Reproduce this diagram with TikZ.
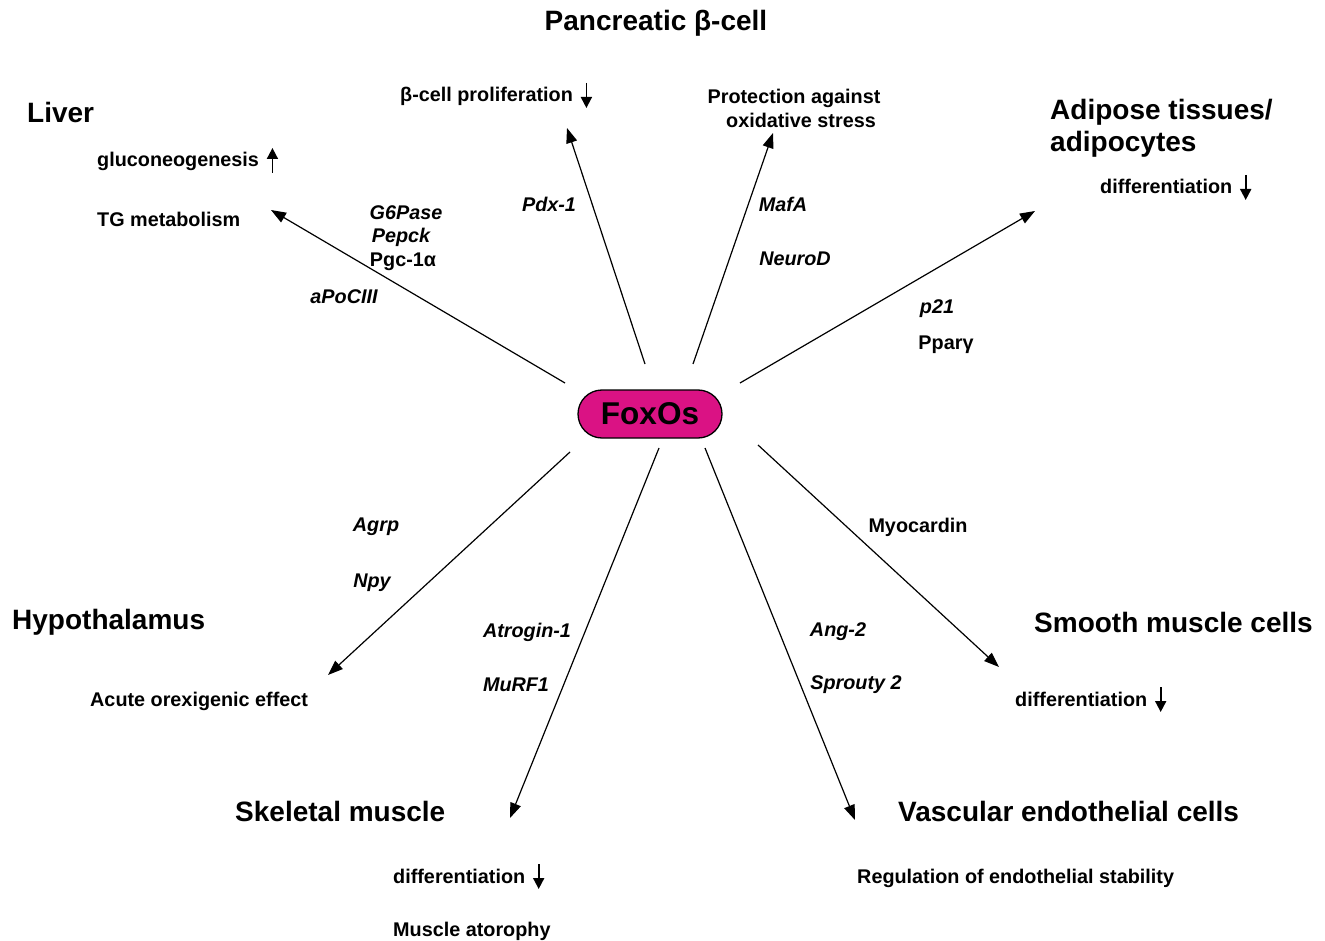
\documentclass[tikz,border=0pt]{standalone}
\usepackage{fontspec}
\setmainfont{Liberation Sans}
\usetikzlibrary{arrows.meta}
\newcommand\darr{\tikz[baseline=0pt]\draw[line width=1.8pt,-{Triangle[length=11pt,width=11pt]}] (0pt,19pt) -- (0pt,-6pt);}
\newcommand\uarr{\tikz[baseline=0pt]\draw[line width=1.8pt,-{Triangle[length=11pt,width=11pt]}] (0pt,-6pt) -- (0pt,19pt);}
\tikzset{
  head/.style={font=\bfseries\fontsize{28}{32}\selectfont, inner sep=0pt},
  lbl/.style={font=\bfseries\fontsize{19.8}{24}\selectfont, inner sep=0pt},
  gene/.style={font=\bfseries\itshape\fontsize{19.8}{24}\selectfont, inner sep=0pt},
  generm/.style={font=\bfseries\fontsize{19.8}{24}\selectfont, inner sep=0pt},
  conn/.style={line width=1.2pt, -{Triangle[length=15pt,width=11pt]}},
  fox/.style={draw=black, line width=1.3pt, fill={rgb,255:red,218;green,18;blue,132}, rounded corners=24pt, minimum width=144pt, minimum height=48pt, inner sep=0pt, font=\bfseries\fontsize{31.5}{35}\selectfont}
}
\begin{document}
\begin{tikzpicture}[x=1pt,y=-1pt]
\useasboundingbox (0,0) rectangle (1325,941);
% center
\node[fox] (fox) at (650,414) {FoxOs};
% headings
\node[head] (panc) at (656,23) {Pancreatic β-cell};
\node[head,anchor=west] (liver) at (27,112) {Liver};
\node[head,anchor=west,align=left] (adip) at (1050,128) {Adipose tissues/\\adipocytes};
\node[head,anchor=west] (hypo) at (12,622) {Hypothalamus};
\node[head,anchor=west] (smooth) at (1034,622) {Smooth muscle cells};
\node[head,anchor=west] (skel) at (235,811) {Skeletal muscle};
\node[head,anchor=west] (vasc) at (898,811) {Vascular endothelial cells};
% outcome labels
\node[lbl,anchor=base west] (gluco) at (97,167) {gluconeogenesis\hspace{8pt}\uarr};
\node[lbl,anchor=west] (tg) at (97,219) {TG metabolism};
\node[lbl,anchor=base west] (prolif) at (400,102) {β-cell proliferation\hspace{8pt}\darr};
\node[lbl,align=center] (prot) at (794,108) {Protection against\\\hspace{14pt}oxidative stress};
\node[lbl,anchor=base west] (adipdiff) at (1100,194) {differentiation\hspace{8pt}\darr};
\node[lbl,anchor=west] (orex) at (90,701) {Acute orexigenic effect};
\node[lbl,anchor=base west] (skeldiff) at (393,883) {differentiation\hspace{8pt}\darr};
\node[lbl,anchor=west] (atro) at (393,931) {Muscle atorophy};
\node[lbl,anchor=west] (endo) at (857,878) {Regulation of endothelial stability};
\node[lbl,anchor=base west] (smdiff) at (1015,706) {differentiation\hspace{8pt}\darr};
% gene labels
\node[gene] (g6) at (406,213) {G6Pase};
\node[gene] (pepck) at (401,237) {Pepck};
\node[generm] (pgc) at (403,262) {Pgc-1α};
\node[gene] (apo) at (344,297) {aPoCIII};
\node[gene] (pdx) at (549,204) {Pdx-1};
\node[gene] (mafa) at (783,204) {MafA};
\node[gene] (neurod) at (795,259) {NeuroD};
\node[gene] (p21) at (937,309) {p21};
\node[generm] (ppar) at (946,345) {Pparγ};
\node[gene] (agrp) at (376,527) {Agrp};
\node[gene] (npy) at (372,583) {Npy};
\node[gene] (atrog) at (527,632) {Atrogin-1};
\node[gene] (murf) at (516,685) {MuRF1};
\node[gene] (ang) at (838,632) {Ang-2};
\node[gene] (spr) at (856,685) {Sprouty 2};
\node[generm] (myo) at (918,527) {Myocardin};
% connector ends
\coordinate (sLiver) at (565,383); \coordinate (eLiver) at (271,210);
\coordinate (sPdx) at (645,364);   \coordinate (ePdx) at (567,128);
\coordinate (sMaf) at (693,364);   \coordinate (eMaf) at (773,133);
\coordinate (sAdip) at (740,383);  \coordinate (eAdip) at (1035,211);
\coordinate (sHypo) at (570,452);  \coordinate (eHypo) at (328,675);
\coordinate (sSkel) at (659,448);  \coordinate (eSkel) at (510,818);
\coordinate (sVasc) at (705,448);  \coordinate (eVasc) at (855,820);
\coordinate (sSm) at (758,445);    \coordinate (eSm) at (999,667);
\draw[conn] (sLiver) -- (eLiver);
\draw[conn] (sPdx) -- (ePdx);
\draw[conn] (sMaf) -- (eMaf);
\draw[conn] (sAdip) -- (eAdip);
\draw[conn] (sHypo) -- (eHypo);
\draw[conn] (sSkel) -- (eSkel);
\draw[conn] (sVasc) -- (eVasc);
\draw[conn] (sSm) -- (eSm);
\end{tikzpicture}
\end{document}
